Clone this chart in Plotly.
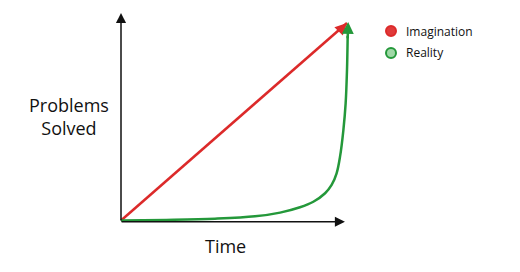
import plotly.graph_objects as go

# Series: expected vs. actual progress over time (normalised units)
imagination_time = [0.0, 1.0]
imagination_value = [0.0, 1.0]

reality_time = [0.0, 0.2, 0.416, 0.593, 0.704, 0.792, 0.851, 0.903, 0.932,
                0.954, 0.969, 0.984, 0.994, 1.0, 1.003]
reality_value = [0.0, 0.003, 0.009, 0.021, 0.040, 0.067, 0.095, 0.138, 0.180,
                 0.239, 0.322, 0.458, 0.593, 0.762, 0.935]
reality_tip = (1.005, 1.005)

series_names = ["Imagination", "Reality"]
x_label = "Time"
y_label = "Problems<br>Solved"

RED = "#dc2a2a"
GREEN = "#24983a"
INK = "#111111"
FONT = "Open Sans"

W, H = 520, 272
fig = go.Figure()

fig.add_trace(go.Scatter(
    x=imagination_time, y=imagination_value, mode="lines",
    line=dict(color=RED, width=2.5), name=series_names[0], showlegend=False,
    hoverinfo="skip"))
fig.add_trace(go.Scatter(
    x=reality_time, y=reality_value, mode="lines",
    line=dict(color=GREEN, width=2.5, shape="spline", smoothing=1.0),
    name=series_names[1], showlegend=False, hoverinfo="skip"))

annotations = []


def arrow(x, y, ax, ay, color, width, size):
    annotations.append(dict(
        x=x, y=y, ax=ax, ay=ay, xref="x", yref="y", axref="x", ayref="y",
        text="", showarrow=True, arrowhead=2, arrowsize=size,
        arrowwidth=width, arrowcolor=color, standoff=0, startstandoff=0))


# axes with arrow heads
arrow(0.0, 1.051, 0.0, -0.007, INK, 1.5, 1.35)
arrow(0.991, -0.006, -0.004, -0.006, INK, 1.5, 1.35)

# heads on the two series
arrow(imagination_time[-1], imagination_value[-1],
      imagination_time[-1] - 0.04, imagination_value[-1] - 0.04 * 226 / 197.5,
      RED, 2.5, 0.95)
arrow(reality_tip[0], reality_tip[1], reality_time[-1], reality_value[-1] - 0.02,
      GREEN, 2.5, 0.95)

annotations.append(dict(
    x=69 / W, y=1 - 116.5 / H, xref="paper", yref="paper", text=y_label,
    showarrow=False, xanchor="center", yanchor="middle",
    font=dict(family=FONT, size=18, color=INK)))
annotations.append(dict(
    x=225 / W, y=1 - 246 / H, xref="paper", yref="paper", text=x_label,
    showarrow=False, xanchor="center", yanchor="middle",
    font=dict(family=FONT, size=18, color=INK)))

# hand-placed legend
legend_rows = [(31, "#e03a3a", RED), (53, "#9fd8a6", GREEN)]
shapes = []
for (py, fill, border), name in zip(legend_rows, series_names):
    r = 5
    shapes.append(dict(
        type="circle", xref="paper", yref="paper",
        x0=(391 - r) / W, x1=(391 + r) / W,
        y0=1 - (py + r) / H, y1=1 - (py - r) / H,
        fillcolor=fill, line=dict(color=border, width=2)))
    annotations.append(dict(
        x=404 / W, y=1 - py / H, xref="paper", yref="paper", text=name,
        showarrow=False, xanchor="left", yanchor="middle",
        font=dict(family=FONT, size=12, color=INK)))

fig.update_layout(
    width=W, height=H, margin=dict(l=0, r=0, t=0, b=0),
    paper_bgcolor="white", plot_bgcolor="white",
    xaxis=dict(range=[-121 / 226, (W - 121) / 226], visible=False,
               fixedrange=True),
    yaxis=dict(range=[(220.5 - H) / 197.5, 220.5 / 197.5], visible=False,
               fixedrange=True),
    annotations=annotations, shapes=shapes, showlegend=False)

fig.write_html("out.html")
